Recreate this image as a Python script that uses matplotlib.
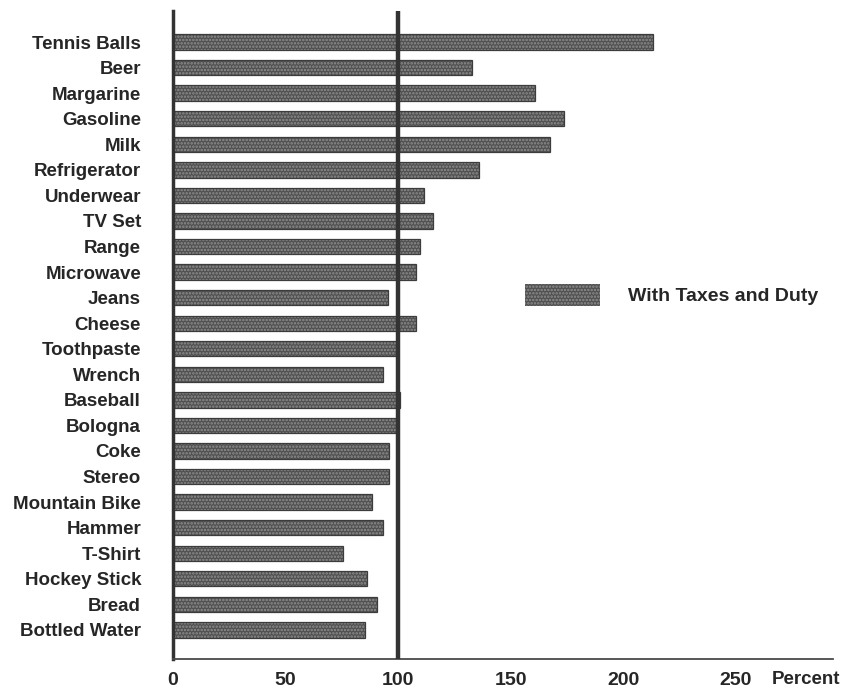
import matplotlib.pyplot as plt
from matplotlib.patches import Patch
from matplotlib.transforms import blended_transform_factory

plt.rcParams['font.family'] = ['Liberation Sans', 'DejaVu Sans']
plt.rcParams['hatch.linewidth'] = 1.2

items = ['Tennis Balls', 'Beer', 'Margarine', 'Gasoline', 'Milk', 'Refrigerator',
         'Underwear', 'TV Set', 'Range', 'Microwave', 'Jeans', 'Cheese',
         'Toothpaste', 'Wrench', 'Baseball', 'Bologna', 'Coke', 'Stereo',
         'Mountain Bike', 'Hammer', 'T-Shirt', 'Hockey Stick', 'Bread',
         'Bottled Water']
percent = [213, 132.7, 160.9, 173.8, 167.6, 135.7,
           111.3, 115.4, 109.5, 108, 95.3, 108,
           99.7, 93.2, 100.6, 99.7, 96.1, 96.1,
           88.6, 93.2, 75.4, 86, 90.5, 85.3]
xticks = [0, 50, 100, 150, 200, 250]

ink = '#333333'
txt = '#262626'
face = '#505050'
dots = '#8f8f8f'

fig = plt.figure(figsize=(8.48, 6.89), dpi=100)
ax = fig.add_axes([0.204, 0.0435, 0.778, 0.94])

ypos = list(range(len(items)))
ax.barh(ypos, percent, height=0.6, color=face, edgecolor=dots,
        hatch='.....', linewidth=0)
ax.barh(ypos, percent, height=0.6, fill=False, edgecolor='#3c3c3c', linewidth=0.9)

ax.axvline(100, color=ink, linewidth=3.2, zorder=3)

ax.set_xlim(0, 293)
ax.set_ylim(24.14, -1.2)
ax.set_yticks(ypos)
ax.set_yticklabels(items, fontsize=13.5, fontweight='bold', color=txt)
ax.set_xticks(xticks)
ax.set_xticklabels([str(t) for t in xticks], fontsize=14, fontweight='bold', color=txt)
ax.tick_params(axis='y', length=0, pad=23)
ax.tick_params(axis='x', length=0, pad=9)

for s in ['top', 'right']:
    ax.spines[s].set_visible(False)
ax.spines['left'].set_linewidth(2.5)
ax.spines['left'].set_color(ink)
ax.spines['bottom'].set_linewidth(1.3)
ax.spines['bottom'].set_color('#4a4a4a')

trans = blended_transform_factory(ax.transData, ax.transAxes)
ax.text(266, -0.0185, 'Percent', transform=trans, ha='left', va='top',
        fontsize=13.5, fontweight='bold', color=txt)

handle = Patch(facecolor=face, edgecolor=dots, hatch='.....', linewidth=0)
fig.legend([handle], ['With Taxes and Duty'], loc='center left',
           bbox_to_anchor=(0.619, 0.572), frameon=False, borderpad=0,
           borderaxespad=0, handlelength=3.87, handleheight=1.34,
           handletextpad=1.44, labelcolor=txt,
           prop={'size': 14, 'weight': 'bold'})

fig.savefig('out.png', dpi=100)
